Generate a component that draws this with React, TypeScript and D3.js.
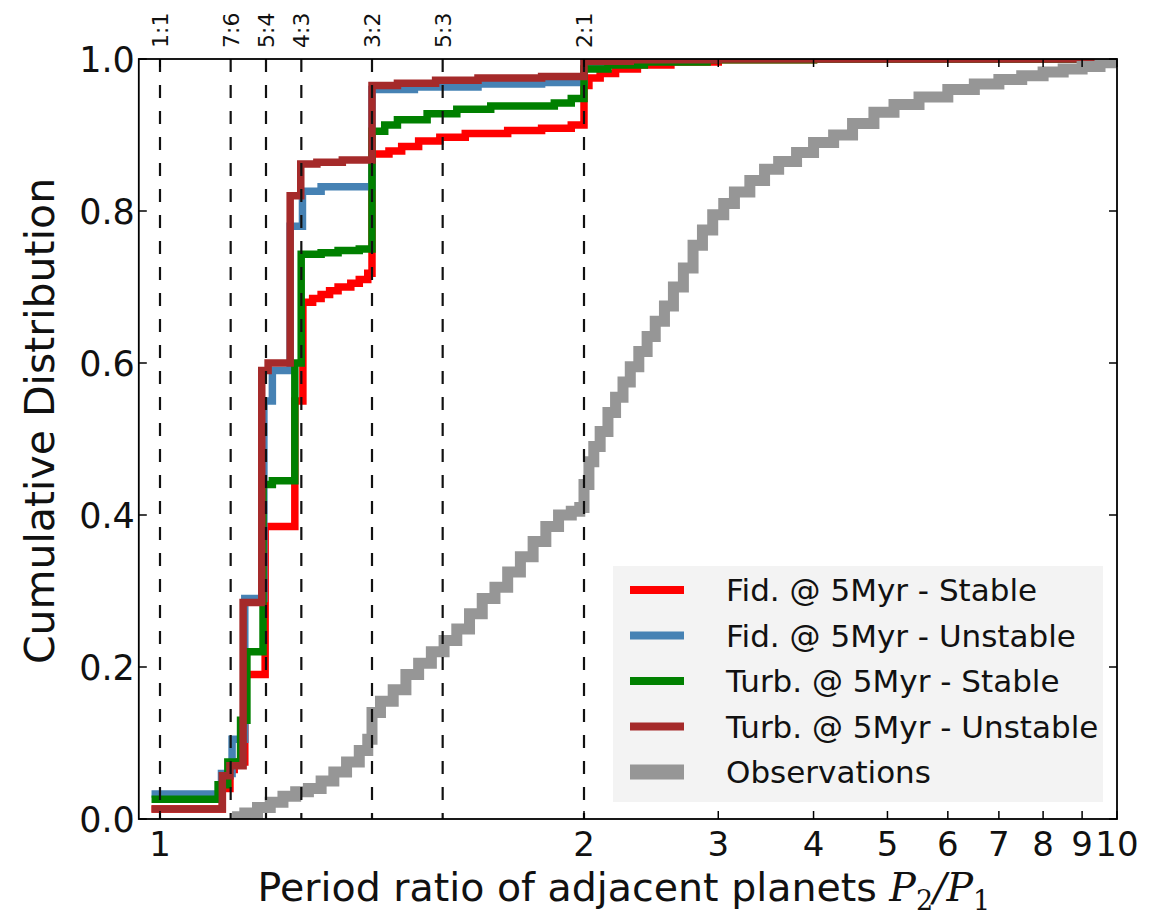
import React from 'react';
import * as d3 from 'd3';

// ---------- data ----------
const resonanceRatios = [1, 7 / 6, 5 / 4, 4 / 3, 3 / 2, 5 / 3, 2];
const resonanceLabels = ['1:1', '7:6', '5:4', '4:3', '3:2', '5:3', '2:1'];
const xTickValues = [1, 2, 3, 4, 5, 6, 7, 8, 9, 10];
const yTickValues = [0, 0.2, 0.4, 0.6, 0.8, 1.0];

const seriesNames = [
  'Fid. @ 5Myr - Stable',
  'Fid. @ 5Myr - Unstable',
  'Turb. @ 5Myr - Stable',
  'Turb. @ 5Myr - Unstable',
  'Observations',
];
const seriesColors = ['#ff0000', '#4682b4', '#008000', '#a52a2a', '#969696'];

// step points [x, cumulative value from x onward]
const fidStable: [number, number][] = [
  [0.98, 0.013], [1.147, 0.04], [1.165, 0.065], [1.175, 0.075], [1.2, 0.19],
  [1.248, 0.385], [1.318, 0.55], [1.337, 0.68], [1.36, 0.685], [1.38, 0.69],
  [1.4, 0.695], [1.42, 0.7], [1.45, 0.705], [1.47, 0.71], [1.49, 0.718],
  [1.5, 0.875], [1.54, 0.879], [1.57, 0.885], [1.61, 0.892], [1.66, 0.897],
  [1.72, 0.902], [1.82, 0.906], [1.9, 0.909], [1.97, 0.913], [2.0, 0.965],
  [2.03, 0.975], [2.1, 0.981], [2.2, 0.987], [2.35, 0.992], [2.6, 0.996],
  [3.0, 0.999], [4.0, 1.0], [10, 1.0],
];
const fidUnstable: [number, number][] = [
  [0.98, 0.033], [1.145, 0.06], [1.17, 0.105], [1.2, 0.29], [1.245, 0.55],
  [1.265, 0.59], [1.307, 0.78], [1.336, 0.826], [1.38, 0.832], [1.5, 0.96],
  [1.6, 0.963], [1.75, 0.967], [1.9, 0.969], [2.0, 0.995], [2.3, 0.998],
  [2.8, 1.0], [10, 1.0],
];
const turbStable: [number, number][] = [
  [0.98, 0.026], [1.137, 0.045], [1.16, 0.075], [1.19, 0.13], [1.205, 0.22],
  [1.243, 0.44], [1.265, 0.445], [1.318, 0.6], [1.333, 0.743], [1.38, 0.745],
  [1.42, 0.748], [1.47, 0.75], [1.5, 0.905], [1.53, 0.913], [1.56, 0.92],
  [1.63, 0.928], [1.7, 0.934], [1.78, 0.938], [1.93, 0.942], [1.97, 0.948],
  [2.0, 0.987], [2.15, 0.992], [2.4, 0.996], [2.9, 0.999], [4.0, 1.0], [10, 1.0],
];
const turbUnstable: [number, number][] = [
  [0.98, 0.013], [1.147, 0.057], [1.165, 0.07], [1.196, 0.285], [1.24, 0.59],
  [1.255, 0.6], [1.307, 0.82], [1.332, 0.862], [1.37, 0.864], [1.43, 0.867],
  [1.5, 0.965], [1.56, 0.968], [1.65, 0.972], [1.75, 0.975], [1.9, 0.977],
  [2.0, 0.997], [2.3, 0.999], [3.0, 1.0], [10, 1.0],
];
const observations: [number, number][] = [
  [1.17, 0.003], [1.2, 0.008], [1.23, 0.015], [1.26, 0.022], [1.29, 0.03],
  [1.32, 0.036], [1.35, 0.04], [1.38, 0.05], [1.41, 0.062], [1.44, 0.075],
  [1.47, 0.09], [1.49, 0.105], [1.5, 0.14], [1.52, 0.155], [1.55, 0.17],
  [1.58, 0.19], [1.61, 0.205], [1.64, 0.22], [1.67, 0.235], [1.7, 0.25],
  [1.73, 0.27], [1.76, 0.29], [1.79, 0.305], [1.82, 0.325], [1.85, 0.345],
  [1.88, 0.365], [1.91, 0.385], [1.94, 0.4], [1.97, 0.405], [1.99, 0.41],
  [2.0, 0.44], [2.03, 0.47], [2.06, 0.49], [2.1, 0.51], [2.15, 0.535],
  [2.2, 0.555], [2.25, 0.575], [2.3, 0.595], [2.36, 0.615], [2.42, 0.635],
  [2.48, 0.655], [2.55, 0.675], [2.62, 0.7], [2.7, 0.725], [2.78, 0.755],
  [2.86, 0.775], [2.95, 0.795], [3.05, 0.81], [3.15, 0.825], [3.3, 0.84],
  [3.45, 0.855], [3.6, 0.865], [3.8, 0.877], [4.0, 0.89], [4.25, 0.9],
  [4.5, 0.915], [4.8, 0.93], [5.1, 0.94], [5.5, 0.95], [6.0, 0.96],
  [6.5, 0.967], [7.0, 0.973], [7.5, 0.978], [8.0, 0.983], [8.5, 0.987],
  [9.0, 0.99], [9.5, 0.995], [10, 1.0],
];
const allSeries = [fidStable, fidUnstable, turbStable, turbUnstable, observations];

// ---------- scales ----------
const xLin = d3.scaleLinear().domain([1, 2]).range([160, 584]);
const xLog = d3.scaleLog().domain([2, 10]).range([584, 1117]);
const xs = (v: number) => (v <= 2 ? xLin(v) : xLog(v));
const y = d3.scaleLinear().domain([0, 1]).range([819, 59]);

const L = xLin(0.95);
const R = xLog(10);
const T = y(1);
const B = y(0);

const FONT = "'DejaVu Sans', sans-serif";

export default function App() {
  const line = d3
    .line<[number, number]>()
    .x((d) => xs(d[0]))
    .y((d) => y(d[1]))
    .curve(d3.curveStepAfter);

  const legendX = 613;
  const legendY = 566;
  const rowY = (i: number) => 590 + i * 45.5;

  return (
    <svg
      width={1150}
      height={918}
      style={{ position: 'absolute', left: 0, top: 0, background: '#fff' }}
      fontFamily={FONT}
    >
      <defs>
        <clipPath id="plotClip">
          <rect x={L} y={T} width={R - L} height={B - T} />
        </clipPath>
      </defs>

      <g clipPath="url(#plotClip)">
        {allSeries.map((s, i) => (
          <path
            key={i}
            d={line(s) || ''}
            fill="none"
            stroke={seriesColors[i]}
            strokeWidth={i === 4 ? 11 : 7.5}
            strokeLinejoin="miter"
            strokeLinecap="butt"
          />
        ))}
        {resonanceRatios.map((r, i) => (
          <line
            key={i}
            x1={xs(r)}
            x2={xs(r)}
            y1={T}
            y2={B}
            stroke="#111"
            strokeWidth={2.2}
            strokeDasharray="13,13"
          />
        ))}
      </g>

      {/* frame */}
      <rect x={L} y={T} width={R - L} height={B - T} fill="none" stroke="#000" strokeWidth={1.8} />

      {/* x ticks inside, bottom and top */}
      {xTickValues.map((v) => (
        <g key={v}>
          <line x1={xs(v)} x2={xs(v)} y1={B} y2={B - 8} stroke="#000" strokeWidth={1.5} />
          <line x1={xs(v)} x2={xs(v)} y1={T} y2={T + 8} stroke="#000" strokeWidth={1.5} />
          <text x={xs(v)} y={B + 37} textAnchor="middle" fontSize={34} fill="#111">
            {v}
          </text>
        </g>
      ))}

      {/* y ticks */}
      {yTickValues.map((v) => (
        <g key={v}>
          <line x1={L} x2={L + 8} y1={y(v)} y2={y(v)} stroke="#000" strokeWidth={1.5} />
          <line x1={R} x2={R - 8} y1={y(v)} y2={y(v)} stroke="#000" strokeWidth={1.5} />
          <text x={L - 4} y={y(v)} dy="0.36em" textAnchor="end" fontSize={35} fill="#111">
            {v.toFixed(1)}
          </text>
        </g>
      ))}

      {/* resonance labels */}
      {resonanceRatios.map((r, i) => (
        <text
          key={i}
          transform={`translate(${xs(r)},48) rotate(-90)`}
          dy="0.36em"
          textAnchor="start"
          fontSize={22}
          fill="#111"
        >
          {resonanceLabels[i]}
        </text>
      ))}

      {/* axis labels */}
      <text x={(L + R) / 2 - 4} y={901} textAnchor="middle" fontSize={39.5} fill="#111">
        Period ratio of adjacent planets{' '}
        <tspan fontFamily="'DejaVu Serif', serif" fontStyle="italic">P</tspan>
        <tspan fontFamily="'DejaVu Serif', serif" fontSize={27} dy={9}>2</tspan>
        <tspan fontFamily="'DejaVu Serif', serif" fontStyle="italic" dy={-9}>/P</tspan>
        <tspan fontFamily="'DejaVu Serif', serif" fontSize={27} dy={9}>1</tspan>
      </text>
      <text
        transform={`translate(54,${(T + B) / 2 - 18}) rotate(-90)`}
        textAnchor="middle"
        fontSize={41}
        fill="#111"
      >
        Cumulative Distribution
      </text>

      {/* legend */}
      <rect x={legendX} y={legendY} width={490} height={236} fill="#f3f3f3" stroke="none" />
      {seriesNames.map((n, i) => (
        <g key={n}>
          <line
            x1={630}
            x2={684}
            y1={rowY(i)}
            y2={rowY(i)}
            stroke={seriesColors[i]}
            strokeWidth={i === 4 ? 15 : 8}
          />
          <text x={726} y={rowY(i)} dy="0.36em" fontSize={31} fill="#111">
            {n}
          </text>
        </g>
      ))}
    </svg>
  );
}
